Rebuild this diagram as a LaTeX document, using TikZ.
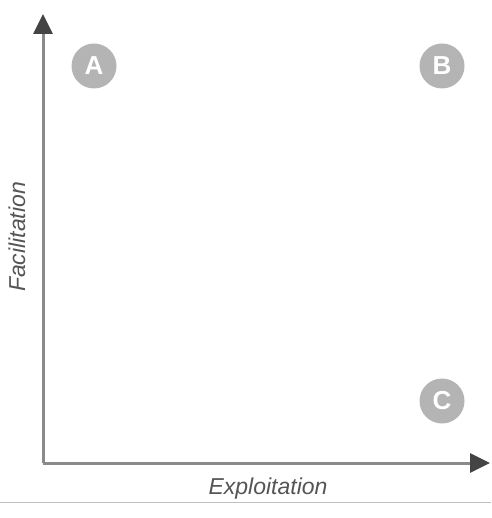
\documentclass[tikz,border=0pt]{standalone}
\usepackage{fontspec}
\setmainfont{Liberation Sans}
\usetikzlibrary{arrows.meta}
\definecolor{axisgray}{HTML}{8A8A8A}
\definecolor{headgray}{HTML}{444444}
\definecolor{circgray}{HTML}{B4B4B4}
\definecolor{labgray}{HTML}{555555}
\tikzset{
  axis/.style={draw=axisgray, line width=3pt, -{Triangle[length=20pt,width=19pt,fill=headgray,color=headgray]}},
  zone/.style={circle, fill=circgray, minimum size=45pt, inner sep=0pt, text=white, font=\fontsize{26}{26}\selectfont\bfseries},
  axlabel/.style={text=labgray, font=\fontsize{23}{23}\selectfont\itshape}
}
\begin{document}
\begin{tikzpicture}[x=1pt,y=-1pt]
\useasboundingbox (0,0) rectangle (491,518);
\coordinate (O) at (43,463);
\coordinate (Ytop) at (43,14);
\coordinate (Xend) at (490,463);
\draw[axis] (O) -- (Ytop);
\draw[axis] (O) -- (Xend);
\coordinate (L1) at (0,502);
\coordinate (L2) at (491,502);
\draw[draw=black!25, line width=1pt] (L1) -- (L2);
\node[zone] (A) at (94,66) {A};
\node[zone] (B) at (442,66) {B};
\node[zone] (C) at (442,401) {C};
\node[axlabel] (xl) at (268,489) {Exploitation};
\node[axlabel, rotate=90] (yl) at (17,237) {Facilitation};
\end{tikzpicture}
\end{document}
